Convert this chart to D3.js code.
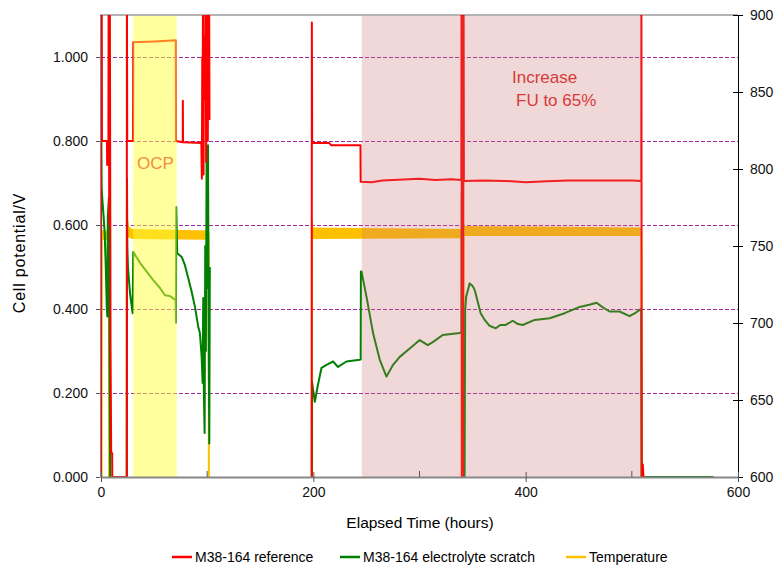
<!DOCTYPE html>
<html>
<head>
<meta charset="utf-8">
<script src="https://cdn.jsdelivr.net/npm/d3@7"></script>
<style>
  body { margin: 0; background: #fff; }
  text { font-family: "Liberation Sans", Arial, sans-serif; }
</style>
</head>
<body>
<div id="chart-area"></div>
<script>
// hours vs cell potential (V); [hour, null] breaks the trace
const reference = [
  [0, 0], [0.05, 1.2], [0.7, 1.2], [0.9, 0.8], [5.6, 0.8], [5.8, 0.743], [6.2, 0.8], [7.0, 0.8],
  [7.2, 1.2], [7.8, 0.6], [8.3, 1.2], [9.0, 0.3], [9.6, 0.057], [10.5, 0.057], [10.6, 0], [24.3, 0],
  [24.4, 1.2], [24.7, 0.8], [30.2, 0.8], [30.4, 1.035], [50, 1.037], [70.4, 1.04], [70.6, 0.8],
  [77.0, 0.797], [77.1, 0.896], [77.3, 0.797], [94.5, 0.795], [95, 0.71], [95.4, 1.0], [95.8, 0.95],
  [96.2, 1.2], [96.6, 0.72], [97, 1.05], [97.4, 0.9], [97.8, 1.02], [98.2, 0.95], [98.6, 1.2],
  [99, 0.75], [99.4, 1.0], [99.8, 0.88], [100.2, 1.2], [100.6, 0.8], [101, 1.0], [101.4, 0.9],
  [101.8, 1.2], [102.2, 0.85],
  [150, null],
  [198.5, 0], [198.6, 1.082], [198.9, 0.795], [215, 0.795], [217, 0.79], [244.4, 0.79], [244.6, 0.703],
  [255, 0.702], [265, 0.706], [280, 0.708], [300, 0.71], [315, 0.707], [330, 0.709], [339.4, 0.707],
  [339.6, 1.2], [340.0, 0], [340.5, 1.2], [341.0, 0], [341.5, 1.2], [341.8, 0.705], [360, 0.706],
  [380, 0.705], [400, 0.702], [420, 0.704], [440, 0.706], [460, 0.706], [480, 0.706], [500, 0.706],
  [508.9, 0.705], [509.0, 1.2], [509.3, 0], [510.3, 0.03], [511, 0], [512, 0]
]

const scratch = [
  [0, 0], [0.1, 0.886], [0.6, 0.69], [1.3, 0.66], [2.5, 0.62], [3.5, 0.58], [4.5, 0.5], [5.5, 0.4],
  [6.0, 0.382], [6.4, 0.62], [7.5, 0.667], [8.0, 0.3], [8.6, 0], [24.3, 0], [24.5, 0.711],
  [24.8, 0.55], [25.4, 0.5], [27.3, 0.438], [29.8, 0.39], [30.4, 0.536], [36.7, 0.51], [43, 0.489],
  [49.2, 0.469], [55.5, 0.45], [60.2, 0.433], [64.9, 0.431], [70.3, 0.421], [70.6, 0.367],
  [70.9, 0.643], [71.8, 0.533], [76, 0.524], [79, 0.505], [82.2, 0.473], [85.4, 0.441], [88.5, 0.405],
  [91.6, 0.358], [93.2, 0.342], [94.8, 0.286], [95.7, 0.224], [96.3, 0.426], [96.9, 0.2],
  [97.6, 0.105], [98.2, 0.55], [98.8, 0.3], [99.5, 0.78], [100.2, 0.45], [100.8, 0.79], [101.4, 0.35],
  [102, 0.08], [102.5, 0.5],
  [150, null],
  [198.6, 0], [198.7, 0.227], [201.4, 0.179], [204, 0.215], [207.7, 0.26], [212.4, 0.267],
  [218.6, 0.275], [223.3, 0.262], [231.2, 0.275], [243.8, 0.279], [244.6, 0.28], [244.8, 0.489],
  [245.4, 0.489], [250.1, 0.429], [256.3, 0.342], [262.6, 0.279], [268.9, 0.239], [275.1, 0.267],
  [281.4, 0.286], [290.8, 0.306], [300.2, 0.326], [307.8, 0.314], [312.5, 0.321], [321.9, 0.338],
  [337.9, 0.343], [339.6, 0.345], [339.8, 0.677], [340.2, 0], [342.5, 0], [343, 0.398], [344, 0.43],
  [347.3, 0.461], [350, 0.455], [352, 0.445], [357.6, 0.39], [361.4, 0.374], [366, 0.36],
  [371.8, 0.354], [376, 0.362], [381.2, 0.362], [387.8, 0.372], [392, 0.365], [397.2, 0.362],
  [408.5, 0.374], [422.6, 0.378], [436.7, 0.39], [450.8, 0.405], [460, 0.41], [466.8, 0.415],
  [472, 0.405], [479, 0.394], [488.5, 0.394], [497.9, 0.383], [503, 0.39], [507.3, 0.398],
  [508.8, 0.4], [509.0, 0.2], [509.2, 0], [577, 0]
]

// temperature (right axis); the trace
const temperature = [
  [0, 600], [0.1, 762], [0.5, 757], [0.6, 600], [0.75, 757], [3, 756], [5, 758], [7.4, 757], [7.5, 600],
  [15, null],
  [24.4, 600], [24.5, 767], [26, 761], [29, 759], [35, 757], [50, 757.5], [70, 757], [80, 757.5],
  [95, 757], [101.4, 758], [101.6, 600],
  [150, null],
  [198.5, 600], [198.6, 766], [199.5, 758], [220, 757.5], [245, 757.5], [280, 758], [320, 758],
  [339.5, 758], [339.6, 600], [341.3, 600], [341.4, 764], [342.5, 759], [380, 759], [420, 759],
  [470, 759], [508.9, 759], [509.1, 600]
]
// scatter of the temperature readings: [hour, low, high]
const temperatureSpread = [
  [0.7, 754, 760], [7.3, 754, 760], [7.35, null, null],
  [24.6, 756, 764], [29, 754.5, 761], [101.3, 754, 760], [101.35, null, null],
  [198.8, 754.5, 762], [339.4, 755, 761], [339.45, null, null],
  [341.5, 756.5, 763], [508.8, 756.5, 762]
]

const ocpWindow = [30.3, 71.3]
const fuWindow = [245.6, 509.2]

const potentialTicks = [0, 0.2, 0.4, 0.6, 0.8, 1.0]
const temperatureTicks = [600, 650, 700, 750, 800, 850, 900]
const hourTicks = [0, 200, 400, 600]
const hourMinorTicks = [100, 300, 500]
const legendLabels = ['M38-164 reference', 'M38-164 electrolyte scratch', 'Temperature']
const legendColors = ['#ff0000', '#008000', '#ffc000']

const W = 778, H = 568
const PLOT = { LEFT: 101, RIGHT: 738, TOP: 15, BOTTOM: 477 }

const svg = d3.select('#chart-area').append('svg')
  .attr('width', W)
  .attr('height', H)

svg.append('rect').attr('width', W).attr('height', H).attr('fill', '#fff')

svg.append('clipPath').attr('id', 'plot-clip')
  .append('rect')
  .attr('x', PLOT.LEFT - 1).attr('y', PLOT.TOP)
  .attr('width', PLOT.RIGHT - PLOT.LEFT + 1).attr('height', PLOT.BOTTOM - PLOT.TOP)

const x = d3.scaleLinear().domain([0, 600]).range([PLOT.LEFT, PLOT.RIGHT])
const y = d3.scaleLinear().domain([0, 1.1]).range([PLOT.BOTTOM, PLOT.TOP])
const yT = d3.scaleLinear().domain([600, 900]).range([PLOT.BOTTOM, PLOT.TOP])

// grid lines
svg.append('g')
  .selectAll('line').data(potentialTicks.filter(d => d > 0))
  .enter().append('line')
  .attr('x1', PLOT.LEFT).attr('x2', PLOT.RIGHT)
  .attr('y1', d => Math.round(y(d)) + 0.5).attr('y2', d => Math.round(y(d)) + 0.5)
  .attr('stroke', '#a12ba1')
  .attr('stroke-dasharray', '4,2')

// top border
svg.append('line')
  .attr('x1', PLOT.LEFT - 1).attr('x2', PLOT.RIGHT)
  .attr('y1', PLOT.TOP).attr('y2', PLOT.TOP)
  .attr('stroke', '#b4b4b4').attr('stroke-width', 2)

const plot = svg.append('g').attr('clip-path', 'url(#plot-clip)')

const vLine = d3.line()
  .defined(d => d[1] !== null)
  .x(d => x(d[0]))
  .y(d => y(d[1]))

const tLine = d3.line()
  .defined(d => d[1] !== null)
  .x(d => x(d[0]))
  .y(d => yT(d[1]))

const tArea = d3.area()
  .defined(d => d[1] !== null)
  .x(d => x(d[0]))
  .y0(d => yT(d[1]))
  .y1(d => yT(d[2]))

plot.append('path')
  .attr('d', tArea(temperatureSpread))
  .attr('fill', '#ffc000')

plot.append('path')
  .attr('d', tLine(temperature))
  .attr('fill', 'none')
  .attr('stroke', '#ffc000')
  .attr('stroke-width', 2)

plot.append('path')
  .attr('d', vLine(scratch))
  .attr('fill', 'none')
  .attr('stroke', '#008000')
  .attr('stroke-width', 2)
  .attr('stroke-linejoin', 'round')

plot.append('path')
  .attr('d', vLine(reference))
  .attr('fill', 'none')
  .attr('stroke', '#ff0000')
  .attr('stroke-width', 2)
  .attr('stroke-linejoin', 'round')

// shaded windows over the traces
plot.append('rect')
  .attr('x', x(ocpWindow[0])).attr('y', PLOT.TOP + 1)
  .attr('width', x(ocpWindow[1]) - x(ocpWindow[0]))
  .attr('height', PLOT.BOTTOM - PLOT.TOP - 1)
  .attr('fill', 'rgb(255,255,60)')
  .attr('opacity', 0.5)

plot.append('rect')
  .attr('x', x(fuWindow[0])).attr('y', PLOT.TOP + 1)
  .attr('width', x(fuWindow[1]) - x(fuWindow[0]))
  .attr('height', PLOT.BOTTOM - PLOT.TOP - 1)
  .attr('fill', 'rgb(200,115,115)')
  .attr('opacity', 0.28)

// annotations
svg.append('text')
  .attr('x', 137).attr('y', 169)
  .attr('font-family', 'Lato, "Open Sans", sans-serif')
  .attr('font-size', '17px')
  .attr('fill', '#f08c46')
  .text('OCP')

svg.append('text')
  .attr('x', 512).attr('y', 83)
  .attr('font-family', 'Lato, "Open Sans", sans-serif')
  .attr('font-size', '17px')
  .attr('fill', '#d83a3a')
  .text('Increase')

svg.append('text')
  .attr('x', 516).attr('y', 106)
  .attr('font-family', 'Lato, "Open Sans", sans-serif')
  .attr('font-size', '17px')
  .attr('fill', '#d83a3a')
  .text('FU to 65%')

// left axis
const yAxis = svg.append('g')
  .attr('transform', `translate(${PLOT.LEFT - 1}, 0)`)
  .call(d3.axisLeft(y).tickValues(potentialTicks).tickFormat(d3.format('.3f')).tickSize(4).tickSizeOuter(0))
yAxis.select('.domain').attr('stroke', '#888')
yAxis.selectAll('.tick line').attr('stroke', '#555')
yAxis.selectAll('.tick text').attr('font-size', '14px').attr('fill', '#111').attr('x', -12)

// right axis
const yTAxis = svg.append('g')
  .attr('transform', `translate(${PLOT.RIGHT}, 0)`)
  .call(d3.axisRight(yT).tickValues(temperatureTicks).tickSize(5).tickSizeOuter(0))
yTAxis.select('.domain').attr('stroke', '#000')
yTAxis.selectAll('.tick line').attr('x1', -5).attr('stroke', '#000')
yTAxis.selectAll('.tick text').attr('font-size', '14px').attr('fill', '#111').attr('x', 12)

// bottom axis
const xAxis = svg.append('g')
  .attr('transform', `translate(0, ${PLOT.BOTTOM})`)
  .call(d3.axisBottom(x).tickValues(hourTicks).tickSize(5).tickSizeOuter(0))
xAxis.select('.domain').attr('stroke', '#888').attr('stroke-width', 2)
xAxis.selectAll('.tick line').attr('y1', -5).attr('stroke', '#555')
xAxis.selectAll('.tick text').attr('font-size', '14px').attr('fill', '#111').attr('y', 10)

svg.append('g')
  .selectAll('line').data(hourMinorTicks)
  .enter().append('line')
  .attr('x1', d => x(d)).attr('x2', d => x(d))
  .attr('y1', PLOT.BOTTOM - 6).attr('y2', PLOT.BOTTOM)
  .attr('stroke', '#555')

// axis titles
svg.append('text')
  .attr('x', 420).attr('y', 528)
  .attr('font-size', '15.5px')
  .attr('text-anchor', 'middle')
  .text('Elapsed Time (hours)')

svg.append('text')
  .attr('transform', 'translate(25, 253) rotate(-90)')
  .attr('font-size', '16px')
  .attr('letter-spacing', '0.8px')
  .attr('text-anchor', 'middle')
  .text('Cell potential/V')

// legend
const legendX = [172, 340, 566]
const legend = svg.append('g')
legendLabels.forEach((label, i) => {
  legend.append('line')
    .attr('x1', legendX[i]).attr('x2', legendX[i] + 20)
    .attr('y1', 557).attr('y2', 557)
    .attr('stroke', legendColors[i])
    .attr('stroke-width', 2.5)
  legend.append('text')
    .attr('x', legendX[i] + 23).attr('y', 562)
    .attr('font-size', '14px')
    .text(label)
})
</script>
</body>
</html>
